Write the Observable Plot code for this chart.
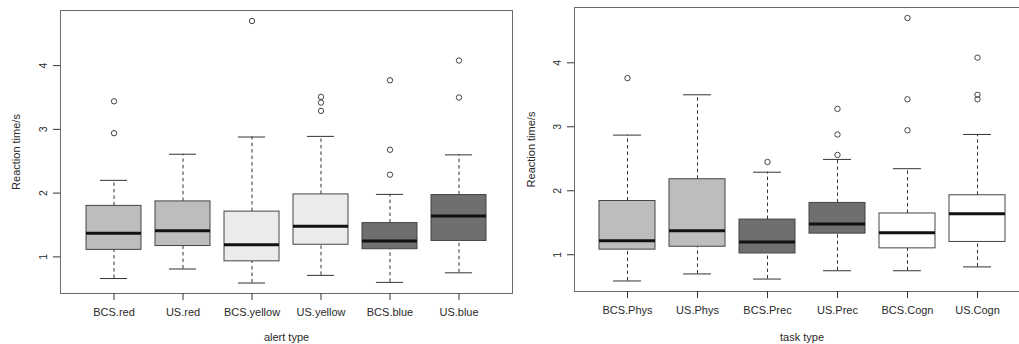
<!DOCTYPE html>
<html><head><meta charset="utf-8">
<script src="https://cdn.jsdelivr.net/npm/d3@7"></script>
<script src="https://cdn.jsdelivr.net/npm/@observablehq/plot@0.6"></script>
<style>
body{margin:0;background:#fff;}
#wrap{position:relative;width:1019px;height:344px;overflow:hidden;background:#fff;}
#wrap svg{position:absolute;top:0;}
</style></head><body><div id="wrap"></div>
<script>
// ---- Left panel: alert type ----
const alertTypes   = ["BCS.red", "US.red", "BCS.yellow", "US.yellow", "BCS.blue", "US.blue"];
const alertLow     = [0.66, 0.81, 0.59, 0.71, 0.60, 0.75];
const alertQ1      = [1.11, 1.17, 0.93, 1.19, 1.12, 1.25];
const alertMedian  = [1.37, 1.41, 1.19, 1.48, 1.25, 1.64];
const alertQ3      = [1.80, 1.87, 1.71, 1.98, 1.53, 1.97];
const alertHigh    = [2.20, 2.61, 2.88, 2.89, 1.98, 2.60];
const alertOutliers = [[2.94, 3.44], [], [4.70], [3.29, 3.42, 3.51], [2.29, 2.68, 3.77], [3.50, 4.08]];
const alertGroups  = ["red", "yellow", "blue"];
const alertGrays   = ["#bdbdbd", "#ebebeb", "#6f6f6f"];

// ---- Right panel: task type ----
const taskTypes    = ["BCS.Phys", "US.Phys", "BCS.Prec", "US.Prec", "BCS.Cogn", "US.Cogn"];
const taskLow      = [0.59, 0.70, 0.62, 0.75, 0.75, 0.81];
const taskQ1       = [1.08, 1.125, 1.02, 1.33, 1.10, 1.20];
const taskMedian   = [1.22, 1.375, 1.20, 1.48, 1.345, 1.64];
const taskQ3       = [1.84, 2.18, 1.55, 1.81, 1.645, 1.93];
const taskHigh     = [2.87, 3.50, 2.29, 2.49, 2.345, 2.88];
const taskOutliers = [[3.76], [], [2.45], [2.56, 2.88, 3.28], [2.945, 3.43, 4.70], [3.43, 3.50, 4.08]];
const taskGroups   = ["Phys", "Prec", "Cogn"];
const taskGrays    = ["#bdbdbd", "#6f6f6f", "#ffffff"];

const yTicks = [1, 2, 3, 4];
const yTitle = "Reaction time/s";
const FONT = "'Liberation Sans', Arial, sans-serif";

function panel(o) {
  const rows = o.cats.map((c, i) => ({
    cat: c, group: c.split(".")[1],
    lo: o.lo[i], q1: o.q1[i], med: o.med[i], q3: o.q3[i], hi: o.hi[i]
  }));
  const outRows = o.cats.flatMap((c, i) => o.out[i].map(v => ({cat: c, v})));
  const [mn, mx] = d3.extent([...o.lo, ...o.hi, ...outRows.map(d => d.v)]);
  const pad = (mx - mn) * 0.04;
  const step = (o.width - o.mL - o.mR) / (o.cats.length - 0.2 + 0.68);
  const capInset = step * 0.8 / 4;
  const svg = Plot.plot({
    width: o.width, height: 344,
    marginLeft: o.mL, marginRight: o.mR, marginTop: o.mT, marginBottom: o.mB,
    x: {domain: o.cats, paddingInner: 0.2, paddingOuter: 0.34, align: 0.5, label: null},
    y: {domain: [mn - pad, mx + pad], label: null},
    color: {type: "ordinal", domain: o.groups, range: o.grays},
    style: {fontFamily: FONT, fontSize: "11px", color: "#2a2a2a", background: "transparent"},
    marks: [
      Plot.ruleX(rows, {x: "cat", y1: "q3", y2: "hi", stroke: "#333", strokeDasharray: "3.5,3"}),
      Plot.ruleX(rows, {x: "cat", y1: "lo", y2: "q1", stroke: "#333", strokeDasharray: "3.5,3"}),
      Plot.tickY(rows, {x: "cat", y: "hi", stroke: "#333", insetLeft: capInset, insetRight: capInset}),
      Plot.tickY(rows, {x: "cat", y: "lo", stroke: "#333", insetLeft: capInset, insetRight: capInset}),
      Plot.barY(rows, {x: "cat", y1: "q1", y2: "q3", fill: {value: "group", scale: "color"}, stroke: "#444", strokeWidth: 1}),
      Plot.tickY(rows, {x: "cat", y: "med", stroke: "#111", strokeWidth: 3}),
      Plot.dot(outRows, {x: "cat", y: "v", r: 2.7, stroke: "#444", strokeWidth: 1, fill: "none"}),
      Plot.frame({stroke: "#6a6a6a"}),
      Plot.axisX({tickSize: 7, tickPadding: 8, stroke: "#333", fontSize: 11}),
      Plot.axisY({ticks: yTicks, tickFormat: d3.format("d"), tickSize: 7, tickRotate: -90, tickPadding: 7,
                  stroke: "#333", fontSize: 10.5}),
      Plot.text([o.xLabel], {frameAnchor: "bottom", textAnchor: "middle", lineAnchor: "bottom",
                 dy: o.labDy, fontSize: 11, fill: "#2a2a2a"}),
      Plot.text([yTitle], {frameAnchor: "left", textAnchor: "middle", lineAnchor: "middle",
                 rotate: -90, dx: o.yDx, fontSize: 11, fill: "#2a2a2a"})
    ]
  });
  svg.style.left = o.left + "px";
  document.getElementById("wrap").appendChild(svg);
}

panel({cats: alertTypes, lo: alertLow, q1: alertQ1, med: alertMedian, q3: alertQ3, hi: alertHigh,
       out: alertOutliers, groups: alertGroups, grays: alertGrays, xLabel: "alert type",
       width: 520, left: 0, mL: 60, mR: 8, mT: 10, mB: 51, labDy: 47.5, yDx: -44});

panel({cats: taskTypes, lo: taskLow, q1: taskQ1, med: taskMedian, q3: taskQ3, hi: taskHigh,
       out: taskOutliers, groups: taskGroups, grays: taskGrays, xLabel: "task type",
       width: 530, left: 510, mL: 64, mR: 11, mT: 7, mB: 53, labDy: 49.5, yDx: -43.5});
</script>
</body></html>
